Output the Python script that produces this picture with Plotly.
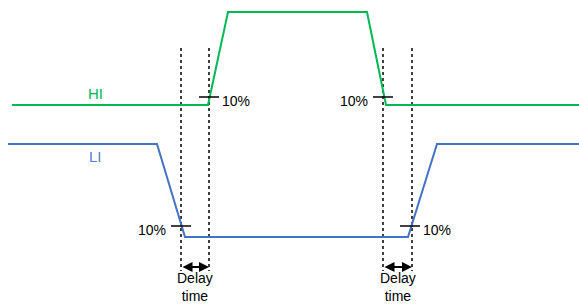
import plotly.graph_objects as go

# Waveform data (time axis units, level axis units; level axis drawn reversed)
hi_t = [12, 208, 228, 367, 386, 579]
hi_v = [105, 105, 12, 12, 105, 105]
li_t = [8, 157, 185, 408, 437, 579]
li_v = [144, 144, 237, 237, 144, 144]

# Dotted reference markers (times)
marker_t = [181, 209, 383, 412]
marker_top, marker_bottom = 48, 271

# 10% threshold marks: (time, level, label side)
pct_t = [209, 383, 181, 410]
pct_v = [97, 97, 226, 226]
pct_side = ["right", "left", "left", "right"]

# Delay intervals
delay_start = [181, 383]
delay_end = [209, 412]

GREEN = "#00B852"
BLUE = "#4472C4"
BLUE_LABEL = "#4F7FD2"
FONT = "Liberation Sans, Arial, sans-serif"

fig = go.Figure()

for t in marker_t:
    fig.add_trace(go.Scatter(x=[t, t], y=[marker_top, marker_bottom], mode="lines",
                             line=dict(color="black", width=1.5, dash="dot"),
                             hoverinfo="skip", showlegend=False))

fig.add_trace(go.Scatter(x=hi_t, y=hi_v, mode="lines", line=dict(color=GREEN, width=2),
                         showlegend=False))
fig.add_trace(go.Scatter(x=li_t, y=li_v, mode="lines", line=dict(color=BLUE, width=2),
                         showlegend=False))

for t, v, side in zip(pct_t, pct_v, pct_side):
    fig.add_trace(go.Scatter(x=[t - 10, t + 10], y=[v, v], mode="lines",
                             line=dict(color="black", width=1.5),
                             hoverinfo="skip", showlegend=False))
    if side == "right":
        fig.add_annotation(x=t + 11, y=v + 4, text="10%", showarrow=False, xanchor="left",
                           yanchor="middle", font=dict(family=FONT, size=14, color="black"))
    else:
        fig.add_annotation(x=t - 13, y=v + 4, text="10%", showarrow=False, xanchor="right",
                           yanchor="middle", font=dict(family=FONT, size=14, color="black"))

for a, b in zip(delay_start, delay_end):
    fig.add_annotation(x=b, y=267, ax=a, ay=267, xref="x", yref="y", axref="x", ayref="y",
                       text="", showarrow=True, arrowhead=2, arrowside="end+start",
                       arrowsize=1, arrowwidth=2, arrowcolor="black")
    mid = (a + b) / 2
    fig.add_annotation(x=mid, y=287, text="Delay<br>time", showarrow=False,
                       yanchor="middle", borderpad=0,
                       font=dict(family=FONT, size=14, color="black"))

fig.add_annotation(x=95, y=93, text="HI", showarrow=False,
                   font=dict(family=FONT, size=15, color=GREEN))
fig.add_annotation(x=95, y=156, text="LI", showarrow=False,
                   font=dict(family=FONT, size=15, color=BLUE_LABEL))

fig.update_layout(
    width=579, height=306,
    margin=dict(l=0, r=0, t=0, b=0),
    paper_bgcolor="white", plot_bgcolor="white",
    xaxis=dict(range=[0, 579], visible=False, fixedrange=True),
    yaxis=dict(range=[306, 0], visible=False, fixedrange=True),
    showlegend=False,
)

fig.write_html("out.html", config={"displayModeBar": False},
               post_script="document.body.style.margin='0';document.body.style.overflow='hidden';")
